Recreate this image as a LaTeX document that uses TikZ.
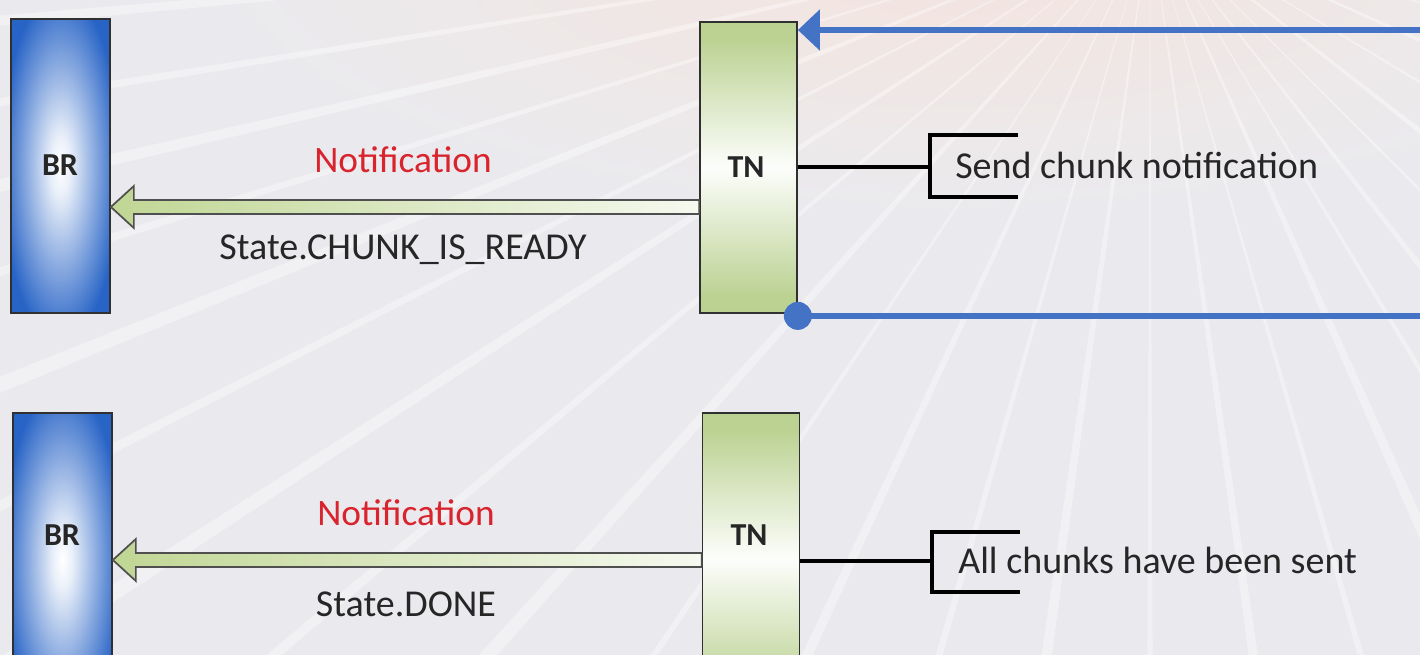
\documentclass[tikz,border=0pt]{standalone}
\usepackage{fontspec}
\setmainfont{Carlito}
\usetikzlibrary{arrows.meta,calc}

\definecolor{bggray}{HTML}{EAEAEE}
\definecolor{warmglow}{HTML}{F4E4DE}
\definecolor{brblue}{HTML}{2864C6}
\definecolor{tngreen}{HTML}{B2CC84}
\definecolor{arrgreen}{HTML}{C0D694}
\definecolor{linkblue}{HTML}{4472C4}
\definecolor{notered}{HTML}{D9232D}
\definecolor{edge}{HTML}{303030}
\definecolor{txt}{HTML}{262626}

% elliptical glow inside the BR boxes
\pgfdeclareradialshading{brglow}{\pgfpoint{0bp}{0bp}}{%
  color(0bp)=(white); color(5bp)=(white!90!brblue);
  color(16bp)=(brblue!50!white); color(30bp)=(brblue); color(50bp)=(brblue)}
% green bands at top and bottom of the TN boxes, white in the middle
\pgfdeclareverticalshading{tnglow}{100bp}{%
  color(0bp)=(tngreen); color(28bp)=(tngreen!88!white);
  color(50bp)=(white!97!tngreen); color(72bp)=(tngreen!88!white);
  color(100bp)=(tngreen)}

\begin{document}
\begin{tikzpicture}[x=0.75pt,y=-0.75pt,
  brbox/.style={draw=edge, line width=1.3pt, shading=brglow, shade,
    minimum width=99*0.75pt, minimum height=294*0.75pt, inner sep=0pt},
  tnbox/.style={draw=edge, line width=1.3pt, shading=tnglow, shade,
    minimum width=97*0.75pt, minimum height=291*0.75pt, inner sep=0pt},
  boxlabel/.style={font=\bfseries\fontsize{24}{28}\selectfont, text=txt, inner sep=0pt},
  note/.style={font=\fontsize{28}{32}\selectfont, text=notered, inner sep=0pt},
  msg/.style={font=\fontsize{28.5}{32}\selectfont, text=txt, inner sep=0pt},
  greenarrow/.style={draw=edge!85, line width=1.3pt, left color=arrgreen,
    right color=arrgreen!15!white, line join=miter},
  bluelink/.style={draw=linkblue, line width=4pt},
  bracketline/.style={draw=black, line width=3.6pt},
]
\useasboundingbox (0,0) rectangle (1420,655);
\clip (0,0) rectangle (1420,655);

% background with a soft sunburst
\fill[bggray] (0,0) rectangle (1420,655);
\shade[inner color=warmglow, outer color=bggray] (950,-40) ellipse [x radius=560pt, y radius=190pt];
\coordinate (sun) at (1150,-80);
\foreach \a/\w in {6/0.4,12/0.6,17/0.35,24/0.7,31/0.45,38/0.8,45/0.4,52/0.7,
  59/0.5,66/0.9,74/0.45,82/0.7,90/0.4,98/0.8,106/0.5,115/0.7,124/0.4,
  132/0.8,140/0.5,147/0.7,153/0.45,158/0.7,163/0.4,167/0.6,171/0.4,175/0.5}
  \fill[white, opacity=0.38] (sun) -- ++(\a-\w/2:2300) -- ++(\a+90:{2300*sin(\w)}) -- cycle;

% ---------- upper exchange ----------
\node[brbox] (br1) at (60.5,166) {};
\node[tnbox] (tn1) at (748.5,167.5) {};
\node[boxlabel] (br1t) at (60,165) {BR};
\node[boxlabel] (tn1t) at (746,167) {TN};

\coordinate (ay1) at (0,207);
\coordinate (tip1) at (br1.east |- ay1);
\filldraw[greenarrow] (tip1) -- ++(23,-21) -- ++(0,14) -- (tn1.west |- 0,200)
  -- (tn1.west |- 0,214) -- ($(tip1)+(23,7)$) -- ++(0,14) -- cycle;

\node[note] (note1) at (403,160) {Notification};
\node[msg] (msg1) at (403,250) {State.CHUNK\_IS\_READY};

% return path into TN
\coordinate (in1) at (1425,30);
\draw[bluelink, -{Triangle[length=16.5pt, width=30pt]}] (in1) -- (tn1.east |- in1);
% outgoing path from the lower corner of TN
\coordinate (dot1) at ($(tn1.south east)+(0,2)$);
\coordinate (out1) at (1425,316);
\draw[bluelink] (dot1) -- (out1 |- dot1);
\fill[linkblue] (dot1) circle[radius=10.5pt];

% annotation bracket
\coordinate (by1) at (0,167);
\coordinate (bk1) at (930,167);
\draw[bracketline] (tn1.east |- by1) -- (bk1);
\draw[bracketline] (1018,135) -- (930,135) -- (930,197) -- (1018,197);
\node[msg, anchor=west] (cmt1) at (955,165) {Send chunk notification};

% ---------- lower exchange ----------
\node[brbox] (br2) at (62.5,560) {};
\node[tnbox] (tn2) at (751,558.5) {};
\node[boxlabel] (br2t) at (62,535) {BR};
\node[boxlabel] (tn2t) at (749,535) {TN};

\coordinate (ay2) at (0,560);
\coordinate (tip2) at (br2.east |- ay2);
\filldraw[greenarrow] (tip2) -- ++(23,-21) -- ++(0,14) -- (tn2.west |- 0,553)
  -- (tn2.west |- 0,567) -- ($(tip2)+(23,7)$) -- ++(0,14) -- cycle;

\node[note] (note2) at (406,513) {Notification};
\node[msg] (msg2) at (406,604) {State.DONE};

\coordinate (by2) at (0,561);
\coordinate (bk2) at (932,561);
\draw[bracketline] (tn2.east |- by2) -- (bk2);
\draw[bracketline] (1020,532) -- (932,532) -- (932,592) -- (1020,592);
\node[msg, anchor=west] (cmt2) at (958,560) {All chunks have been sent};
\end{tikzpicture}
\end{document}
